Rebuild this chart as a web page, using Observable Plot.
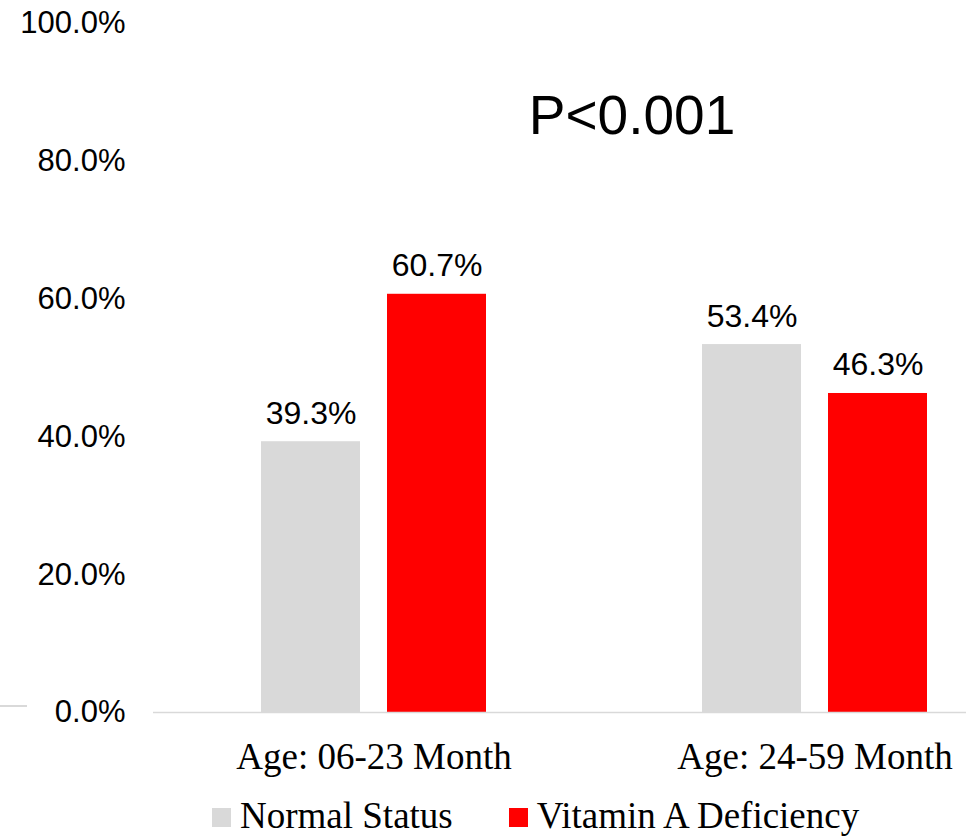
<!DOCTYPE html>
<html>
<head>
<meta charset="utf-8">
<script src="https://cdn.jsdelivr.net/npm/d3@7"></script>
<script src="https://cdn.jsdelivr.net/npm/@observablehq/plot@0.6"></script>
<style>
  html, body { margin: 0; padding: 0; background: #fff; }
  #wrap { position: relative; width: 966px; height: 838px; overflow: hidden; }
  #stub { position: absolute; left: 0; top: 705px; width: 27px; height: 1.5px; background: #d9d9d9; }
  #legend { position: absolute; left: 212px; top: 797px; display: flex; align-items: center;
            font-family: "Liberation Serif", "Times New Roman", serif; font-size: 37px; line-height: 37px; color: #000; white-space: nowrap; }
  .item { display: flex; align-items: center; margin-right: 56px; }
  .sw { width: 19px; height: 19px; margin-right: 9px; margin-top: 4px; }
</style>
</head>
<body>
<div id="wrap">
  <div id="chart"></div>
  <div id="stub"></div>
  <div id="legend"></div>
</div>
<script>
// Age groups, series names and percentages
const categories = ["Age: 06-23 Month", "Age: 24-59 Month"];
const seriesNames = ["Normal Status", "Vitamin A Deficiency"];
const normalValues = [39.3, 53.4];
const deficiencyValues = [60.7, 46.3];
const yTicks = [0, 20, 40, 60, 80, 100];
const pLabel = "P<0.001";
const colors = ["#d9d9d9", "#ff0000"];

const normalRows = categories.map((c, i) => ({category: c, value: normalValues[i]}));
const deficiencyRows = categories.map((c, i) => ({category: c, value: deficiencyValues[i]}));
const fmt = v => v.toFixed(1) + "%";

const sans = "'Liberation Sans', Arial, sans-serif";

const chart = Plot.plot({
  width: 966,
  height: 785,
  marginLeft: 153,
  marginRight: 0,
  marginTop: 23,
  marginBottom: 73,
  style: {fontFamily: sans, fontSize: "31px", color: "#000", overflow: "visible"},
  x: {domain: categories, range: [153, 1035], padding: 0},
  y: {domain: [0, 100]},
  marks: [
    Plot.axisY({ticks: yTicks, tickFormat: fmt, tickSize: 0, tickPadding: 28, label: null, fontSize: 31}),
    Plot.axisX({tickSize: 0, tickPadding: 30, label: null, fontSize: 37, fontFamily: "'Liberation Serif', 'Times New Roman', serif"}),
    Plot.barY(normalRows, {x: "category", y: "value", fill: colors[0], insetLeft: 108, insetRight: 234}),
    Plot.barY(deficiencyRows, {x: "category", y: "value", fill: colors[1], insetLeft: 234, insetRight: 108}),
    Plot.ruleY([0], {stroke: "#d9d9d9", strokeWidth: 1.5}),
    Plot.text(normalRows, {x: "category", y: "value", text: d => fmt(d.value), dx: -63, dy: -18, lineAnchor: "bottom", fontSize: 32, fill: "#000"}),
    Plot.text(deficiencyRows, {x: "category", y: "value", text: d => fmt(d.value), dx: 63, dy: -18, lineAnchor: "bottom", fontSize: 32, fill: "#000"}),
    Plot.text([pLabel], {text: d => d, frameAnchor: "top", dx: 72, dy: 110, lineAnchor: "bottom", fontSize: 55, fontFamily: sans, fill: "#000"})
  ]
});
document.getElementById("chart").appendChild(chart);

// Legend row
const legend = d3.select("#legend");
seriesNames.forEach((name, i) => {
  const item = legend.append("div").attr("class", "item");
  item.append("div").attr("class", "sw").style("background", colors[i]);
  item.append("span").text(name);
});
</script>
</body>
</html>
